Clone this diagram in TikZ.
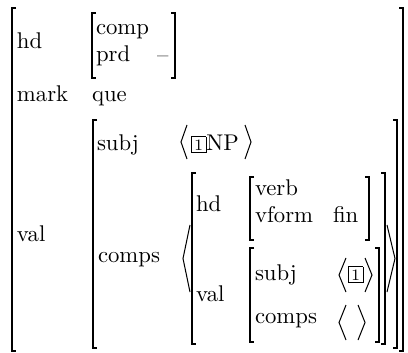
\documentclass[tikz,border=0pt]{standalone}
\newcommand{\tg}[1]{{\setlength{\fboxsep}{1pt}\fbox{\scriptsize #1}}}
\tikzset{
  txt/.style={inner sep=0pt, outer sep=0pt, anchor=base west, font=\fontsize{10}{12}\selectfont},
  brk/.style={line width=0.8pt},
  ang/.style={line width=0.45pt, line join=miter},
}
% left bracket: x, top, bottom
\newcommand{\lbrk}[3]{\draw[brk] (#1+4,#2) -- (#1,#2) -- (#1,#3) -- (#1+4,#3);}
\newcommand{\rbrk}[3]{\draw[brk] (#1-4,#2) -- (#1,#2) -- (#1,#3) -- (#1-4,#3);}
% angle: end x, tip x, top, bottom
\newcommand{\angl}[4]{\draw[ang] (#1,#3) -- (#2,{(#3+#4)/2}) -- (#1,#4);}
\begin{document}
\begin{tikzpicture}[x=0.44pt, y=-0.44pt]
\useasboundingbox (0,0) rectangle (408,353);
% level 1
\lbrk{12}{8}{351}
\rbrk{403}{8}{351}
\node[txt] (ohd) at (17,49) {hd};
\node[txt] (omark) at (17,102) {mark};
\node[txt] (oval) at (17,241) {val};
% level 2: hd
\lbrk{92}{13}{78}
\rbrk{175}{13}{78}
\node[txt] (hcomp) at (96,35) {comp};
\node[txt] (hprd) at (96,62) {prd};
\node[txt] (hminus) at (157,63) {--};
\node[txt] (que) at (92,102) {que};
% level 2: val
\lbrk{93}{120}{348}
\rbrk{397}{120}{348}
\node[txt] (vsubj) at (97,150) {subj};
\angl{187}{181}{125}{159}
\node[txt] (vnp) at (191,150) {\tg{1}NP};
\angl{245}{251}{125}{159}
\node[txt] (vcomps) at (98,262) {comps};
\angl{190}{183}{225}{292}
\angl{387}{395}{225}{292}
% level 3
\lbrk{192}{173}{344}
\rbrk{385}{173}{344}
\node[txt] (chd) at (196,211) {hd};
\node[txt] (cval) at (196,301) {val};
% level 4: hd
\lbrk{250}{177}{240}
\rbrk{369}{177}{240}
\node[txt] (cverb) at (255,196) {verb};
\node[txt] (cvform) at (255,222) {vform};
\node[txt] (cfin) at (333,222) {fin};
% level 4: val
\lbrk{250}{248}{342}
\rbrk{379}{248}{342}
\node[txt] (csubj) at (255,280) {subj};
\angl{346}{339}{258}{292}
\node[txt] (ctag) at (348,280) {\tg{1}};
\angl{365}{372}{258}{292}
\node[txt] (ccomps) at (255,323) {comps};
\angl{346}{339}{305}{340}
\angl{358}{365}{305}{340}
\end{tikzpicture}
\end{document}
